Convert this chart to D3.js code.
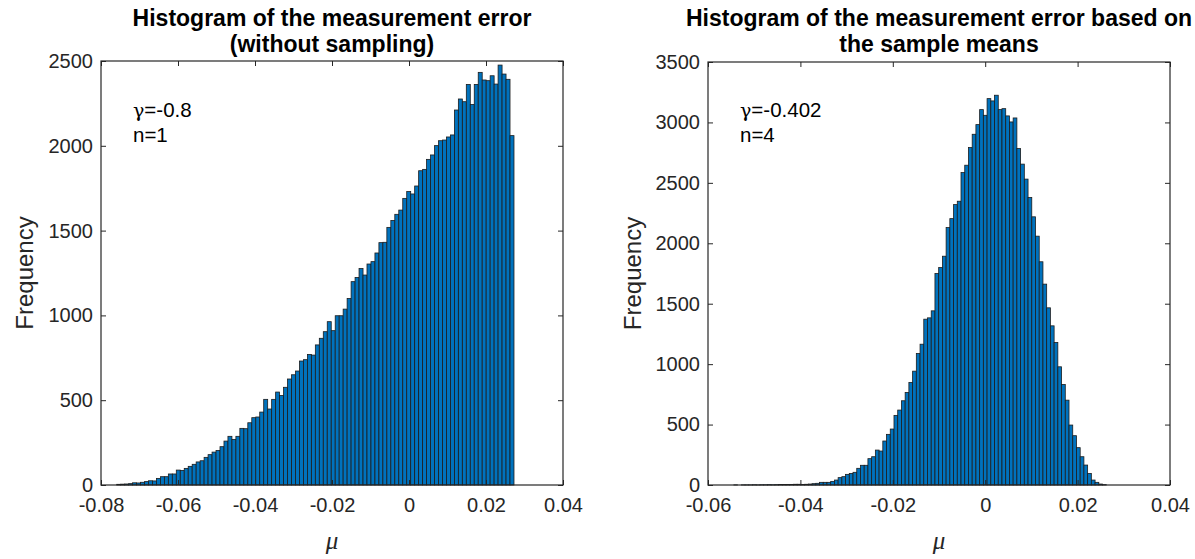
<!DOCTYPE html>
<html>
<head>
<meta charset="utf-8">
<script src="https://cdn.jsdelivr.net/npm/d3@7"></script>
<style>
  html, body { margin: 0; padding: 0; background: #fff; }
  svg { display: block; font-family: "Liberation Sans", Arial, sans-serif; }
</style>
</head>
<body>
<svg id="chart" width="1195" height="559"></svg>
<script>
// Bin counts of the measurement error mu (100 bins each)
const leftCounts = [
  4, 5, 6, 8, 13, 12, 16, 20, 25, 24,
  39, 49, 49, 65, 65, 88, 86, 98, 110, 122,
  136, 143, 163, 179, 194, 204, 226, 259, 287, 269,
  287, 334, 332, 367, 397, 401, 430, 505, 448, 505,
  548, 528, 576, 625, 650, 672, 731, 739, 770, 766,
  826, 865, 904, 963, 910, 998, 998, 1037, 1100, 1199,
  1224, 1276, 1238, 1303, 1317, 1368, 1429, 1431, 1519, 1560,
  1596, 1621, 1690, 1730, 1716, 1763, 1853, 1861, 1920, 1946,
  2001, 2030, 2034, 2052, 2064, 2211, 2276, 2260, 2362, 2244,
  2362, 2433, 2388, 2384, 2413, 2364, 2476, 2423, 2392, 2060
];
const leftBinStart = -0.07592;
const leftBinWidth = 0.0010319;

const rightCounts = [
  1, 0, 1, 1, 1, 2, 1, 2, 2, 3,
  2, 3, 4, 4, 5, 5, 6, 6, 5, 6,
  8, 11, 14, 22, 22, 22, 30, 41, 61, 69,
  88, 96, 105, 138, 163, 163, 218, 234, 289, 281,
  364, 419, 463, 576, 620, 697, 766, 849, 942, 1088,
  1165, 1372, 1383, 1441, 1750, 1799, 1893, 2130, 2204, 2320,
  2348, 2585, 2646, 2792, 2902, 2982, 3106, 3059, 3197, 3178,
  3225, 3106, 3114, 3054, 3004, 3037, 2784, 2655, 2531, 2379,
  2219, 2059, 1847, 1662, 1466, 1317, 1179, 978, 832, 702,
  496, 408, 309, 234, 165, 96, 41, 22, 8, 3
];
const rightBinStart = -0.0544;
const rightBinWidth = 0.000806;

// Axis ticks
const leftXTicks = [-0.08, -0.06, -0.04, -0.02, 0, 0.02, 0.04];
const leftYTicks = [0, 500, 1000, 1500, 2000, 2500];
const rightXTicks = [-0.06, -0.04, -0.02, 0, 0.02, 0.04];
const rightYTicks = [0, 500, 1000, 1500, 2000, 2500, 3000, 3500];

// Titles and annotations
const leftTitle = ["Histogram of the measurement error", "(without sampling)"];
const rightTitle = ["Histogram of the measurement error based on", "the sample means"];
const leftNotes = [["\u03b3", "=-0.8"], ["", "n=1"]];
const rightNotes = [["\u03b3", "=-0.402"], ["", "n=4"]];
const xLabel = "\u03bc";
const yLabel = "Frequency";

const svg = d3.select("#chart");
const axisColor = "#262626";
const barFill = "#0072BD";

const fmtTick = d => d === 0 ? "0" : String(+d.toFixed(2));

function drawPanel(p) {
  const x = d3.scaleLinear().domain(p.xDomain).range([p.left, p.right]);
  const y = d3.scaleLinear().domain(p.yDomain).range([p.bottom, p.top]);
  const g = svg.append("g");

  const bins = p.counts.map((c, i) => ({
    x0: p.binStart + i * p.binWidth,
    x1: p.binStart + (i + 1) * p.binWidth,
    count: c
  }));

  g.append("g").selectAll("rect").data(bins).join("rect")
    .attr("x", d => x(d.x0))
    .attr("width", d => x(d.x1) - x(d.x0))
    .attr("y", d => y(d.count))
    .attr("height", d => y(0) - y(d.count))
    .attr("fill", barFill)
    .attr("stroke", "#1c1c1c")
    .attr("stroke-width", 0.8);

  const tick = 5;
  const styleAxis = sel => {
    sel.select(".domain").remove();
    sel.selectAll(".tick line").attr("stroke", axisColor).attr("stroke-width", 1);
    sel.selectAll(".tick text").attr("fill", axisColor).attr("font-size", 20)
      .attr("font-family", "'Liberation Sans', Arial, sans-serif");
  };

  g.append("g").attr("transform", `translate(0,${p.bottom})`)
    .call(d3.axisBottom(x).tickValues(p.xTicks).tickFormat(fmtTick)
      .tickSizeInner(-tick).tickSizeOuter(0).tickPadding(13))
    .call(styleAxis);
  g.append("g").attr("transform", `translate(0,${p.top})`)
    .call(d3.axisTop(x).tickValues(p.xTicks).tickFormat("")
      .tickSizeInner(-tick).tickSizeOuter(0))
    .call(styleAxis);
  g.append("g").attr("transform", `translate(${p.left},0)`)
    .call(d3.axisLeft(y).tickValues(p.yTicks).tickFormat(d3.format("d"))
      .tickSizeInner(-tick).tickSizeOuter(0).tickPadding(8))
    .call(styleAxis);
  g.append("g").attr("transform", `translate(${p.right},0)`)
    .call(d3.axisRight(y).tickValues(p.yTicks).tickFormat("")
      .tickSizeInner(-tick).tickSizeOuter(0))
    .call(styleAxis);

  // plot box
  g.append("rect")
    .attr("x", p.left).attr("y", p.top)
    .attr("width", p.right - p.left).attr("height", p.bottom - p.top)
    .attr("fill", "none").attr("stroke", axisColor).attr("stroke-width", 1.2);

  const cx = (p.left + p.right) / 2;
  // title
  g.append("text").attr("x", cx).attr("y", 26)
    .attr("text-anchor", "middle").attr("font-weight", "bold").attr("font-size", 23)
    .attr("fill", "#000")
    .selectAll("tspan").data(p.title).join("tspan")
    .attr("x", cx).attr("dy", (d, i) => i === 0 ? 0 : 26).text(d => d);

  // annotations: Greek symbol followed by the value
  p.notes.forEach((n, i) => {
    const t = g.append("text").attr("x", p.noteX).attr("y", 117 + i * 25)
      .attr("font-size", 20.5).attr("fill", "#000");
    if (n[0]) t.append("tspan").attr("font-family", "'DejaVu Serif', serif")
      .attr("font-size", 19).text(n[0]);
    t.append("tspan").text(n[1]);
  });

  // axis labels
  g.append("text").attr("x", cx).attr("y", 549)
    .attr("text-anchor", "middle").attr("font-size", 25).attr("font-style", "italic")
    .attr("font-family", "'Liberation Serif', 'Times New Roman', serif")
    .attr("fill", axisColor).text(xLabel);
  const ly = (p.top + p.bottom) / 2;
  g.append("text").attr("transform", `translate(${p.yLabelX},${ly}) rotate(-90)`)
    .attr("text-anchor", "middle").attr("font-size", 24)
    .attr("fill", axisColor).text(yLabel);
}

drawPanel({
  counts: leftCounts, binStart: leftBinStart, binWidth: leftBinWidth,
  xDomain: [-0.08, 0.04], yDomain: [0, 2500],
  xTicks: leftXTicks, yTicks: leftYTicks,
  left: 101, right: 563, top: 61, bottom: 485,
  title: leftTitle, notes: leftNotes, noteX: 133, yLabelX: 33
});

drawPanel({
  counts: rightCounts, binStart: rightBinStart, binWidth: rightBinWidth,
  xDomain: [-0.06, 0.04], yDomain: [0, 3500],
  xTicks: rightXTicks, yTicks: rightYTicks,
  left: 708, right: 1170, top: 62, bottom: 485,
  title: rightTitle, notes: rightNotes, noteX: 740, yLabelX: 641
});
</script>
</body>
</html>
